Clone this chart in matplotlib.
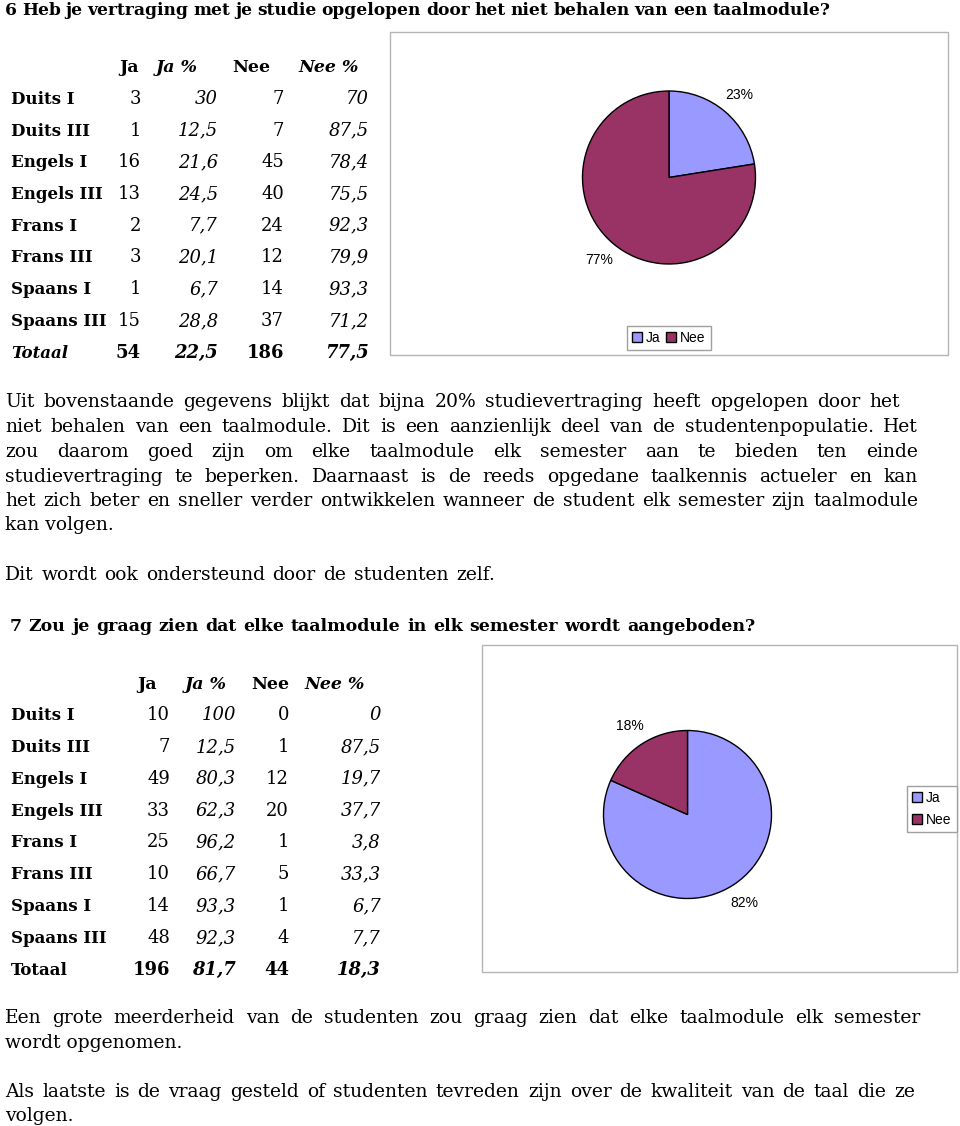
import numpy as np
import matplotlib
matplotlib.use('Agg')
from matplotlib import pyplot as plt
from matplotlib.patches import Rectangle

# tabel vraag 6
vakken = ['Duits I', 'Duits III', 'Engels I', 'Engels III', 'Frans I',
          'Frans III', 'Spaans I', 'Spaans III']
ja6 = [3, 1, 16, 13, 2, 3, 1, 15]
ja6_pct = [30, 12.5, 21.6, 24.5, 7.7, 20.1, 6.7, 28.8]
nee6 = [7, 7, 45, 40, 24, 12, 14, 37]
nee6_pct = [70, 87.5, 78.4, 75.5, 92.3, 79.9, 93.3, 71.2]
totaal6 = [54, 22.5, 186, 77.5]
pie6_labels = ['23%', '77%']

# tabel vraag 7
ja7 = [10, 7, 49, 33, 25, 10, 14, 48]
ja7_pct = [100, 12.5, 80.3, 62.3, 96.2, 66.7, 93.3, 92.3]
nee7 = [0, 1, 12, 20, 1, 5, 1, 4]
nee7_pct = [0, 87.5, 19.7, 37.7, 3.8, 33.3, 6.7, 7.7]
totaal7 = [196, 81.7, 44, 18.3]
pie7_labels = ['82%', '18%']

kolommen = ['Ja', 'Ja %', 'Nee', 'Nee %']
legenda = ['Ja', 'Nee']
kleuren = ['#9999ff', '#993366']

titel6 = '6 Heb je vertraging met je studie opgelopen door het niet behalen van een taalmodule?'
alinea1 = ['Uit bovenstaande gegevens blijkt dat bijna 20% studievertraging heeft opgelopen door het',
           'niet behalen van een taalmodule. Dit is een aanzienlijk deel van de studentenpopulatie. Het',
           'zou daarom goed zijn om elke taalmodule elk semester aan te bieden ten einde',
           'studievertraging te beperken. Daarnaast is de reeds opgedane taalkennis actueler en kan',
           'het zich beter en sneller verder ontwikkelen wanneer de student elk semester zijn taalmodule',
           'kan volgen.']
zin2 = 'Dit wordt ook ondersteund door de studenten zelf.'
titel7 = '7 Zou je graag zien dat elke taalmodule in elk semester wordt aangeboden?'
slot = ['Een grote meerderheid van de studenten zou graag zien dat elke taalmodule elk semester',
        'wordt opgenomen.',
        'Als laatste is de vraag gesteld of studenten tevreden zijn over de kwaliteit van de taal die ze',
        'volgen.']

W, H = 960, 1126
fig = plt.figure(figsize=(W / 100, H / 100), dpi=100)
ax = fig.add_axes([0, 0, 1, 1])
ax.set_xlim(0, W)
ax.set_ylim(H, 0)
ax.axis('off')
rend = fig.canvas.get_renderer()
SERIF = 'DejaVu Serif'


def breedte(t):
    bb = t.get_window_extent(rend)
    return bb.width


def regel(x0, yb, tekst, x1=None, size=13.5, weight='normal', style='normal', mingap=5):
    kw = dict(fontsize=size, fontweight=weight, fontstyle=style,
              family=SERIF, va='baseline', ha='left')
    if x1 is None:
        ax.text(x0, yb, tekst, **kw)
        return
    woorden = tekst.split(' ')
    objs = [ax.text(0, yb, w, **kw) for w in woorden]
    ws = [breedte(o) for o in objs]
    ruimte = x1 - x0
    if sum(ws) + mingap * (len(ws) - 1) > ruimte:
        f = (ruimte - mingap * (len(ws) - 1)) / sum(ws)
        for o in objs:
            o.set_fontsize(size * f)
        ws = [breedte(o) for o in objs]
    gap = (ruimte - sum(ws)) / (len(ws) - 1)
    x = x0
    for o, w in zip(objs, ws):
        o.set_x(x)
        x += w + gap


def fmt(v):
    return f'{v:g}'.replace('.', ',')


def tabel(y0, stap, kop_y, kop_x, rechts, ja, ja_pct, nee, nee_pct, totaal, totaal_italic):
    for naam, x in zip(kolommen, kop_x):
        st = 'italic' if '%' in naam else 'normal'
        ax.text(x, kop_y, naam, fontsize=12.5, fontweight='bold', fontstyle=st,
                family=SERIF, va='baseline', ha='left')
    for i, naam in enumerate(vakken):
        y = y0 + i * stap
        ax.text(11, y, naam, fontsize=12, fontweight='bold', family=SERIF, va='baseline')
        vals = [str(ja[i]), fmt(ja_pct[i]), str(nee[i]), fmt(nee_pct[i])]
        for j, (v, xr) in enumerate(zip(vals, rechts)):
            ax.text(xr, y, v, fontsize=13, family=SERIF, va='baseline', ha='right',
                    fontstyle='italic' if j % 2 else 'normal')
    y = y0 + len(vakken) * stap
    ax.text(11, y, 'Totaal', fontsize=12, fontweight='bold', family=SERIF, va='baseline',
            fontstyle='italic' if totaal_italic else 'normal')
    vals = [str(totaal[0]), fmt(totaal[1]), str(totaal[2]), fmt(totaal[3])]
    for j, (v, xr) in enumerate(zip(vals, rechts)):
        ax.text(xr, y, v, fontsize=13, fontweight='bold', family=SERIF, va='baseline', ha='right',
                fontstyle='italic' if j % 2 else 'normal')


def taart(cx, cy, r, waarden, labels):
    pa = fig.add_axes([(cx - r) / W, 1 - (cy + r) / H, 2 * r / W, 2 * r / H])
    wedges, txt = pa.pie(waarden, colors=kleuren, startangle=90, counterclock=False,
                         labels=labels, labeldistance=1.25,
                         wedgeprops=dict(edgecolor='black', linewidth=1),
                         textprops=dict(family='Liberation Sans', fontsize=10))
    for t in txt:
        t.set_ha('center')
        t.set_va('center')
    pa.set_xlim(-1, 1)
    pa.set_ylim(-1, 1)
    pa.set_aspect('auto')
    pa.axis('off')
    return pa, wedges


# titel en tabel 6
regel(5, 15, titel6, x1=830, size=12.5, weight='bold')
tabel(104, 31.7, 72, [119, 156, 232, 298], [141, 218, 284, 369],
      ja6, ja6_pct, nee6, nee6_pct, totaal6, True)

# grafiek 6
ax.add_patch(Rectangle((390, 32), 558, 323, fill=False, edgecolor='#b4b4b4', lw=1))
pa6, w6 = taart(669, 177.5, 86.5, [totaal6[0], totaal6[2]], pie6_labels)
pa6.legend(w6, legenda, loc='center', bbox_to_anchor=(669, 338), bbox_transform=ax.transData,
           ncol=2, frameon=True, fancybox=False, edgecolor='#a0a0a0', framealpha=1,
           prop=dict(family='Liberation Sans', size=10), handlelength=0.7, handleheight=0.7,
           handletextpad=0.3, columnspacing=0.4, borderpad=0.35)

# tekst
ys = [407, 432, 457, 482, 506, 530]
for k, (t, y) in enumerate(zip(alinea1, ys)):
    regel(5, y, t, x1=None if k == 5 else (900 if k == 0 else 918))
regel(5, 580, zin2, x1=495)
regel(10, 631, titel7, x1=755, size=12.5, weight='bold')

# tabel 7
tabel(720, 31.87, 689, [137, 185, 251, 304], [170, 236, 289, 381],
      ja7, ja7_pct, nee7, nee7_pct, totaal7, False)

# grafiek 7
ax.add_patch(Rectangle((482, 645), 475, 327, fill=False, edgecolor='#b4b4b4', lw=1))
pa7, w7 = taart(687.5, 814.5, 84, [totaal7[0], totaal7[2]], pie7_labels)
pa7.legend(w7, legenda, loc='center', bbox_to_anchor=(932, 809), bbox_transform=ax.transData,
           ncol=1, frameon=True, fancybox=False, edgecolor='#a0a0a0', framealpha=1,
           prop=dict(family='Liberation Sans', size=10), handlelength=0.7, handleheight=0.7,
           handletextpad=0.3, labelspacing=0.6, borderpad=0.35)

# slot
regel(5, 1023, slot[0], x1=920)
regel(5, 1048, slot[1])
regel(5, 1097, slot[2], x1=915)
regel(5, 1121, slot[3])

fig.savefig('out.png', dpi=100)
